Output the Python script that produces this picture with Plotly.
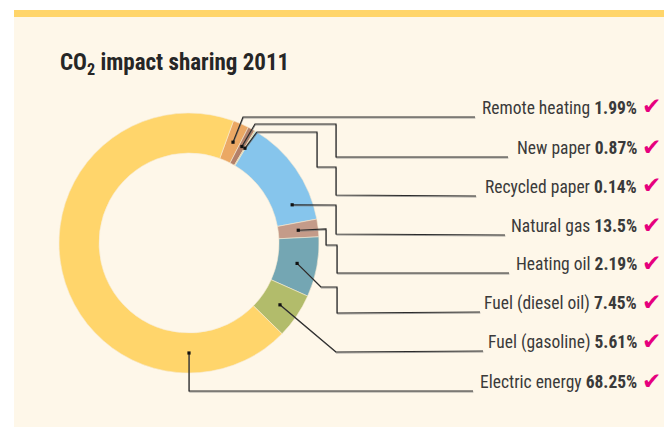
import math
import plotly.graph_objects as go

# ---------------- data ----------------
categories = ["Remote heating", "New paper", "Recycled paper", "Natural gas",
              "Heating oil", "Fuel (diesel oil)", "Fuel (gasoline)", "Electric energy"]
values = [1.99, 0.87, 0.14, 13.5, 2.19, 7.45, 5.61, 68.25]
value_labels = ["1.99%", "0.87%", "0.14%", "13.5%", "2.19%", "7.45%", "5.61%", "68.25%"]
title_text = "CO<sub>2</sub> impact sharing 2011"

# ---------------- style / layout ----------------
colors = ["#EBA864", "#B38069", "#C9C27C", "#86C5EC", "#C49B89", "#74A6B3", "#B2BC6B", "#FFD56B"]
W, H = 664, 427
CX, CY, R_OUT, R_IN = 189, 243, 130, 90
ROTATION = 20
# fractional position of the leader anchor inside each slice
anchor_frac = [0.5, 0.5, 0.5, 0.8, 0.5, 0.5, 0.5, 0.186]
label_y = [108, 148, 187, 226, 264, 303, 342, 382]
line_end_x = [475, 508, 476, 505, 509, 480, 483, 473]
# intermediate elbow points of every leader (pixel space)
elbows = [
    [(243, 117)],
    [(255, 124), (336, 124), (336, 157)],
    [(257, 132), (317, 132), (317, 167), (336, 167), (336, 195)],
    [(336, 205), (336, 234)],
    [(326, 229), (326, 245), (337, 245), (337, 273)],
    [(321, 287), (337, 287), (337, 313)],
    [(336, 352)],
    [(189, 391)],
]
TEXT_RIGHT = 639
NARROW = "Liberation Sans Narrow, Roboto Condensed, DejaVu Sans Condensed, Arial Narrow, sans-serif"


def px(x):
    return x / W


def py(y):
    return 1 - y / H


fig = go.Figure()
fig.add_trace(go.Pie(
    labels=categories, values=values, sort=False, direction="clockwise",
    rotation=ROTATION, hole=R_IN / R_OUT, textinfo="none", hoverinfo="label+percent",
    marker=dict(colors=colors, line=dict(color="#F6EBD3", width=0.6)),
    domain=dict(x=[px(CX - R_OUT), px(CX + R_OUT)], y=[py(CY + R_OUT), py(CY - R_OUT)]),
    showlegend=False,
))

shapes = [
    dict(type="rect", xref="paper", yref="paper", x0=px(14), x1=1, y0=0, y1=py(17),
         fillcolor="#FEF7E9", line=dict(width=0), layer="below"),
    dict(type="rect", xref="paper", yref="paper", x0=px(14), x1=1, y0=py(17), y1=py(10),
         fillcolor="#FFD56A", line=dict(width=0), layer="below"),
]

total = sum(values)
start = ROTATION
annotations = []
for i, v in enumerate(values):
    span = v / total * 360
    ang = math.radians(start + span * anchor_frac[i])
    start += span
    rmid = (R_IN + R_OUT) / 2
    ax, ay = CX + rmid * math.sin(ang), CY - rmid * math.cos(ang)
    ly = label_y[i] + 9
    pts = [(ax, ay)] + elbows[i] + [(line_end_x[i], ly)]
    for off, col, wd in [(1.0, "rgba(120,120,120,0.7)", 1), (0, "#2A2A2A", 1.2)]:
        path = "M " + " L ".join(f"{px(x + (0 if off == 0 else 0.4))},{py(y + off)}" for x, y in pts)
        shapes.append(dict(type="path", xref="paper", yref="paper", path=path,
                           line=dict(color=col, width=wd), layer="above"))
    shapes.append(dict(type="rect", xref="paper", yref="paper",
                       x0=px(ax - 1.6), x1=px(ax + 1.6), y0=py(ay + 1.6), y1=py(ay - 1.6),
                       fillcolor="#111111", line=dict(width=0), layer="above"))
    annotations.append(dict(
        xref="paper", yref="paper", x=px(TEXT_RIGHT), y=py(label_y[i]),
        xanchor="right", yanchor="middle", showarrow=False,
        text=f"{categories[i]} <b>{value_labels[i]}</b>",
        font=dict(family=NARROW, size=17.5, color="#3A3A3A"),
    ))
    annotations.append(dict(
        xref="paper", yref="paper", x=px(TEXT_RIGHT + 0.5), y=py(label_y[i] - 1.5),
        xanchor="left", yanchor="middle", showarrow=False,
        text="✔", font=dict(family="DejaVu Sans", size=23, color="#E6007E"),
    ))

annotations.append(dict(
    xref="paper", yref="paper", x=px(58), y=py(64), xanchor="left", yanchor="middle",
    showarrow=False, text=f"<b>{title_text}</b>",
    font=dict(family=NARROW, size=23, color="#262626"),
))

fig.update_layout(
    width=W, height=H, margin=dict(l=0, r=0, t=0, b=0),
    paper_bgcolor="#FFFFFF", plot_bgcolor="rgba(0,0,0,0)",
    shapes=shapes, annotations=annotations, showlegend=False,
)
fig.write_html("out.html", config={"displayModeBar": False},
               post_script="document.body.style.margin='0';")
